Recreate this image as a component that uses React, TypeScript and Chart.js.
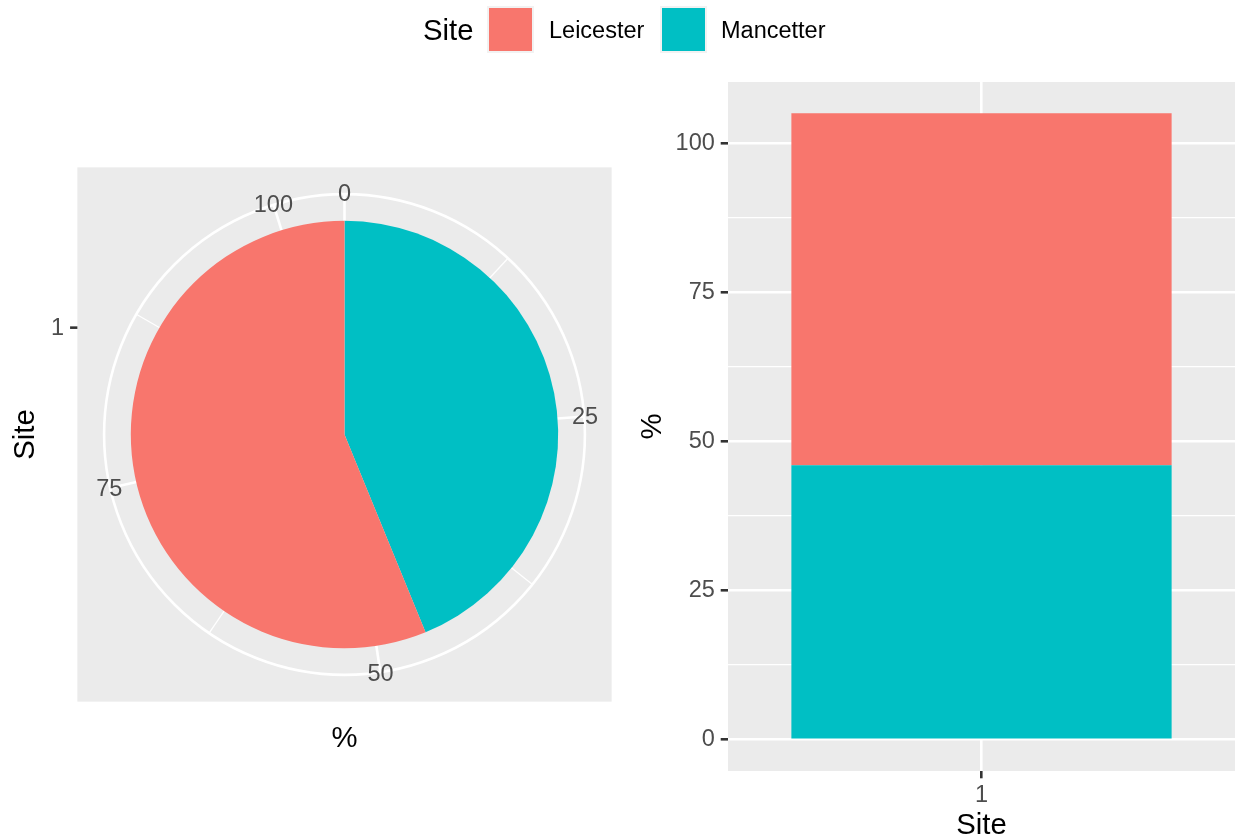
import React, { useEffect, useRef } from "react";
import { Chart, registerables } from "chart.js";

Chart.register(...registerables);

// ---- data ----
const sites = ["Leicester", "Mancetter"];
const siteColors = ["#F8766D", "#00BFC4"];
const sitePercents = [59, 46];
const categories = ["1"];
const majorBreaks = [0, 25, 50, 75, 100];
const minorBreaks = [12.5, 37.5, 62.5, 87.5];
const xTitle = "Site";
const yTitle = "%";
const legendTitle = "Site";

// stacking order (bottom / first clockwise first), as ggplot stacks
const stackOrder = [1, 0];

const FONT = '"Liberation Sans", Arial, Helvetica, sans-serif';
const TICK_SIZE = 23.5;
const TITLE_SIZE = 29.3;
const TICK_COLOR = "#4D4D4D";
const PANEL = "#EBEBEB";
const MAJOR_W = 2.6;
const MINOR_W = 1.3;
const TICK_LEN = 7.3;
const TICK_PAD = 5.9;

const total = sitePercents.reduce((a, b) => a + b, 0);

const polarPlugin = {
  id: "polarGrid",
  beforeDatasetsDraw(chart: any) {
    const arc = chart.getDatasetMeta(0).data[0] as any;
    if (!arc) return;
    const cx = arc.x;
    const cy = arc.y;
    const R = arc.outerRadius;
    const half = 1.25 * R;
    const outer = 1.125 * R;
    const ctx = chart.ctx as CanvasRenderingContext2D;
    ctx.save();
    ctx.fillStyle = PANEL;
    ctx.fillRect(cx - half, cy - half, 2 * half, 2 * half);
    ctx.strokeStyle = "#FFFFFF";
    const drawSpoke = (v: number, w: number) => {
      const a = (v / total) * Math.PI * 2;
      ctx.lineWidth = w;
      ctx.beginPath();
      ctx.moveTo(cx, cy);
      ctx.lineTo(cx + outer * Math.sin(a), cy - outer * Math.cos(a));
      ctx.stroke();
    };
    minorBreaks.forEach((v) => drawSpoke(v, MINOR_W));
    majorBreaks.forEach((v) => drawSpoke(v, MAJOR_W));
    ctx.lineWidth = MAJOR_W;
    ctx.beginPath();
    ctx.arc(cx, cy, outer, 0, Math.PI * 2);
    ctx.stroke();
    ctx.beginPath();
    ctx.arc(cx, cy, 0.5 * R, 0, Math.PI * 2);
    ctx.stroke();
    ctx.restore();
  },
  afterDatasetsDraw(chart: any) {
    const arc = chart.getDatasetMeta(0).data[0] as any;
    if (!arc) return;
    const cx = arc.x;
    const cy = arc.y;
    const R = arc.outerRadius;
    const half = 1.25 * R;
    const outer = 1.125 * R + 0.8;
    const ctx = chart.ctx as CanvasRenderingContext2D;
    ctx.save();
    // theta labels
    ctx.font = `${TICK_SIZE}px ${FONT}`;
    ctx.fillStyle = TICK_COLOR;
    ctx.textAlign = "center";
    ctx.textBaseline = "middle";
    majorBreaks.forEach((v) => {
      const a = (v / total) * Math.PI * 2;
      ctx.fillText(String(v), cx + outer * Math.sin(a), cy - outer * Math.cos(a) + 1.5);
    });
    // r axis tick "1"
    const ty = cy - 0.5 * R;
    const left = cx - half;
    ctx.strokeStyle = "#333333";
    ctx.lineWidth = MAJOR_W;
    ctx.beginPath();
    ctx.moveTo(left - TICK_LEN, ty);
    ctx.lineTo(left, ty);
    ctx.stroke();
    ctx.textAlign = "right";
    ctx.fillText(categories[0], left - TICK_LEN - TICK_PAD, ty + 1.1);
    // axis titles
    ctx.fillStyle = "#000000";
    ctx.font = `${TITLE_SIZE}px ${FONT}`;
    ctx.textAlign = "center";
    ctx.fillText(yTitle, cx, cy + half + 36.8);
    ctx.translate(25.5, cy);
    ctx.rotate(-Math.PI / 2);
    ctx.fillText(xTitle, 0, 0);
    ctx.restore();
  },
};

const panelBgPlugin = {
  id: "panelBg",
  beforeDraw(chart: any) {
    const { ctx, chartArea } = chart;
    if (!chartArea) return;
    ctx.save();
    ctx.fillStyle = PANEL;
    ctx.fillRect(chartArea.left, chartArea.top, chartArea.width, chartArea.height);
    ctx.restore();
  },
};

const isMajor = (v: number) => majorBreaks.includes(v);

export default function App() {
  const pieRef = useRef<HTMLCanvasElement>(null);
  const barRef = useRef<HTMLCanvasElement>(null);

  useEffect(() => {
    const cx = 344.5;
    const cy = 434.5;
    const R = 213.7;
    const pie = new Chart(pieRef.current as HTMLCanvasElement, {
      type: "pie",
      data: {
        labels: stackOrder.map((i) => sites[i]),
        datasets: [
          {
            data: stackOrder.map((i) => sitePercents[i]),
            backgroundColor: stackOrder.map((i) => siteColors[i]),
            borderWidth: 0,
          },
        ],
      },
      options: {
        animation: false,
        responsive: false,
        devicePixelRatio: 1,
        events: [],
        layout: {
          padding: {
            left: cx - R,
            right: 620 - (cx + R),
            top: cy - R,
            bottom: 838 - (cy + R),
          },
        },
        plugins: { legend: { display: false }, tooltip: { enabled: false } },
      },
      plugins: [polarPlugin],
    } as any);

    const allTicks = [...majorBreaks, ...minorBreaks].sort((a, b) => a - b);
    const bar = new Chart(barRef.current as HTMLCanvasElement, {
      type: "bar",
      data: {
        labels: categories,
        datasets: stackOrder.map((i) => ({
          label: sites[i],
          data: [sitePercents[i]],
          backgroundColor: siteColors[i],
          borderWidth: 0,
          barPercentage: 0.75,
          categoryPercentage: 1,
        })),
      },
      options: {
        animation: false,
        responsive: false,
        devicePixelRatio: 1,
        events: [],
        layout: { padding: { top: 82, right: 3, left: 0, bottom: 0 } },
        plugins: { legend: { display: false }, tooltip: { enabled: false } },
        scales: {
          x: {
            stacked: true,
            offset: true,
            grid: {
              offset: false,
              color: "#FFFFFF",
              lineWidth: MAJOR_W,
              tickColor: "#333333",
              tickWidth: MAJOR_W,
              tickLength: TICK_LEN,
              drawTicks: true,
            },
            border: { display: false },
            ticks: {
              color: TICK_COLOR,
              font: { family: FONT, size: TICK_SIZE },
              padding: 3,
              maxRotation: 0,
            },
            title: {
              display: true,
              text: xTitle,
              color: "#000000",
              font: { family: FONT, size: TITLE_SIZE, lineHeight: 1 },
              padding: { top: 0, bottom: -2.5 },
            },
            afterFit(s: any) {
              s.height = 67;
            },
          },
          y: {
            stacked: true,
            min: -5.25,
            max: 110.25,
            afterBuildTicks(s: any) {
              s.ticks = allTicks.map((v) => ({ value: v }));
            },
            grid: {
              color: "#FFFFFF",
              lineWidth: (c: any) => (isMajor(c.tick?.value) ? MAJOR_W : MINOR_W),
              tickColor: (c: any) => (isMajor(c.tick?.value) ? "#333333" : "rgba(0,0,0,0)"),
              tickWidth: MAJOR_W,
              tickLength: TICK_LEN,
              drawTicks: true,
            },
            border: { display: false },
            ticks: {
              autoSkip: false,
              color: TICK_COLOR,
              font: { family: FONT, size: TICK_SIZE },
              padding: TICK_PAD,
              callback: (v: any) => (isMajor(Number(v)) ? String(v) : ""),
            },
            title: {
              display: true,
              text: yTitle,
              color: "#000000",
              font: { family: FONT, size: TITLE_SIZE, lineHeight: 1 },
              padding: { top: 18.5, bottom: 0 },
            },
            afterFit(s: any) {
              s.width = 108;
            },
          },
        },
      },
      plugins: [panelBgPlugin],
    } as any);

    return () => {
      pie.destroy();
      bar.destroy();
    };
  }, []);

  const legendItems = sites.map((s, i) => ({ name: s, color: siteColors[i] }));
  const keyLefts = [487, 660];
  const textLefts = [549, 721];

  return (
    <div
      style={{
        position: "fixed",
        left: 0,
        top: 0,
        width: 1238,
        height: 838,
        background: "#FFFFFF",
        fontFamily: FONT,
        overflow: "hidden",
      }}
    >
      <canvas
        ref={pieRef}
        width={620}
        height={838}
        style={{ position: "absolute", left: 0, top: 0, width: 620, height: 838 }}
      />
      <canvas
        ref={barRef}
        width={618}
        height={838}
        style={{ position: "absolute", left: 620, top: 0, width: 618, height: 838 }}
      />
      <div
        style={{
          position: "absolute",
          left: 423,
          top: 6,
          height: 47,
          lineHeight: "47px",
          fontSize: TITLE_SIZE,
          color: "#000",
          whiteSpace: "nowrap",
        }}
      >
        {legendTitle}
      </div>
      {legendItems.map((it, i) => (
        <React.Fragment key={it.name}>
          <div
            style={{
              position: "absolute",
              left: keyLefts[i],
              top: 6,
              width: 47,
              height: 47,
              background: "#F2F2F2",
            }}
          >
            <div
              style={{
                position: "absolute",
                left: 2,
                top: 2,
                width: 43,
                height: 43,
                background: it.color,
              }}
            />
          </div>
          <div
            style={{
              position: "absolute",
              left: textLefts[i],
              top: 7,
              height: 47,
              lineHeight: "47px",
              fontSize: TICK_SIZE,
              color: "#000",
              whiteSpace: "nowrap",
            }}
          >
            {it.name}
          </div>
        </React.Fragment>
      ))}
    </div>
  );
}
